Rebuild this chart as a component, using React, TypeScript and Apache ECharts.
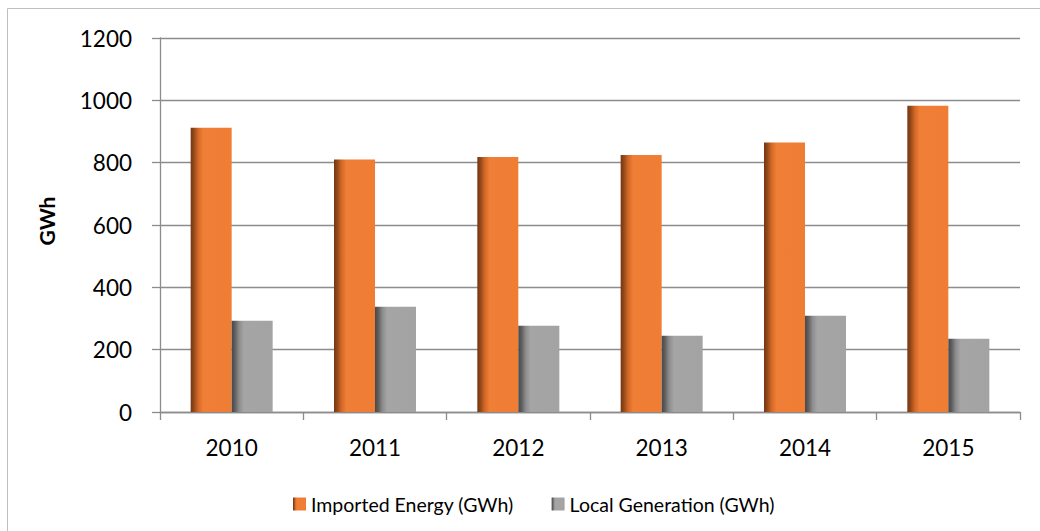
import React, { useEffect, useRef } from "react";
import * as echarts from "echarts";

const years = ["2010", "2011", "2012", "2013", "2014", "2015"];
const importedEnergy = [912, 810, 818, 825, 865, 983];
const localGeneration = [293, 338, 277, 245, 309, 235];
const yTicks = { min: 0, max: 1200, interval: 200 };
const seriesNames = ["Imported Energy (GWh)", "Local Generation (GWh)"];

const FONT = "Lato, 'Open Sans', sans-serif";

const orangeFill = new echarts.graphic.LinearGradient(0, 0, 1, 0, [
  { offset: 0, color: "#743610" },
  { offset: 0.08, color: "#93491A" },
  { offset: 0.18, color: "#D26726" },
  { offset: 0.3, color: "#EF7E36" },
  { offset: 1, color: "#F07D34" },
]);
const grayFill = new echarts.graphic.LinearGradient(0, 0, 1, 0, [
  { offset: 0, color: "#484848" },
  { offset: 0.08, color: "#5E5E5E" },
  { offset: 0.18, color: "#8C8C8C" },
  { offset: 0.3, color: "#A5A5A5" },
  { offset: 1, color: "#A3A3A3" },
]);

export default function App() {
  const ref = useRef<HTMLDivElement>(null);
  useEffect(() => {
    if (!ref.current) return;
    const chart = echarts.init(ref.current, undefined, { renderer: "svg" });
    chart.setOption({
      animation: false,
      backgroundColor: "#ffffff",
      textStyle: { fontFamily: FONT },
      graphic: [
        {
          type: "rect",
          shape: { x: 7.5, y: 8.5, width: 1100, height: 600 },
          style: { fill: "none", stroke: "#BFBFBF", lineWidth: 1 },
          silent: true,
        },
      ],
      grid: { left: 160, right: 20, top: 38, bottom: 119, containLabel: false },
      legend: {
        data: seriesNames,
        left: 288,
        top: 489,
        itemWidth: 13,
        itemHeight: 13,
        itemGap: 38,
        icon: "rect",
        textStyle: { fontFamily: FONT, fontSize: 19.5, color: "#000000" },
      },
      xAxis: {
        type: "category",
        data: years,
        axisLine: { show: true, lineStyle: { color: "#8C8C8C", width: 1.3 } },
        axisTick: { show: true, length: 8, lineStyle: { color: "#8C8C8C", width: 1.3 } },
        axisLabel: { fontFamily: FONT, fontSize: 22.5, color: "#000000", margin: 24 },
      },
      yAxis: {
        type: "value",
        min: yTicks.min,
        max: yTicks.max,
        interval: yTicks.interval,
        name: "GWh",
        nameLocation: "middle",
        nameRotate: 90,
        nameGap: 103,
        nameTextStyle: { fontFamily: FONT, fontSize: 21, fontWeight: "bold", color: "#000000", padding: [0, 0, 0, 8] },
        axisLine: { show: true, lineStyle: { color: "#8C8C8C", width: 1.3 } },
        axisTick: { show: true, length: 8, lineStyle: { color: "#8C8C8C", width: 1.3 } },
        axisLabel: {
          fontFamily: FONT,
          fontSize: 22.5,
          color: "#000000",
          margin: 28,
          formatter: (v: number) => String(v),
        },
        splitLine: { show: true, lineStyle: { color: "#8C8C8C", width: 1.3 } },
      },
      series: [
        {
          name: seriesNames[0],
          type: "bar",
          data: importedEnergy,
          barWidth: 41,
          barGap: "0%",
          itemStyle: { color: orangeFill },
        },
        {
          name: seriesNames[1],
          type: "bar",
          data: localGeneration,
          barWidth: 41,
          barGap: "0%",
          itemStyle: { color: grayFill },
        },
      ],
    });
    return () => chart.dispose();
  }, []);
  return (
    <div
      ref={ref}
      style={{ position: "fixed", left: 0, top: 0, width: 1040, height: 531 }}
    />
  );
}
